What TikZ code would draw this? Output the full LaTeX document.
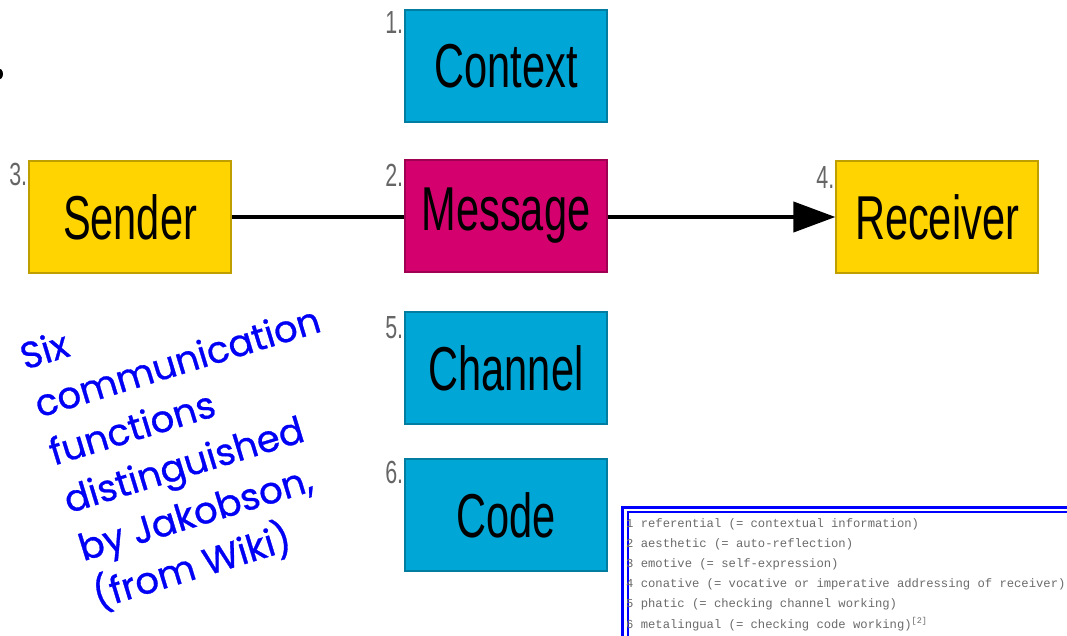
\documentclass[tikz,border=0pt]{standalone}
\usepackage{fontspec}
\usepackage{tikz}
\usetikzlibrary{arrows.meta, positioning}
\setmainfont{Liberation Sans}
\newfontfamily\boxfont[FakeStretch=0.67]{Liberation Sans}
\newfontfamily\notefont[FakeBold=0.8]{Poppins}
\newfontfamily\listfont{Liberation Mono}
\definecolor{ctxcyan}{HTML}{00A6D6}
\definecolor{msgpink}{HTML}{D4006E}
\definecolor{sndyellow}{HTML}{FFD400}
\definecolor{numgray}{HTML}{666666}
\definecolor{listgray}{HTML}{6A6A6A}
\definecolor{noteblue}{HTML}{0000F5}

\begin{document}
\begin{tikzpicture}[x=1pt, y=-1pt,
    fbox/.style={draw=#1!75!black, fill=#1, line width=1.2pt,
                 minimum width=202pt, minimum height=112pt, inner sep=0pt,
                 font=\boxfont\fontsize{62}{62}\selectfont},
    numlbl/.style={font=\boxfont\fontsize{32}{32}\selectfont, text=numgray,
                   anchor=north east, inner sep=0pt},
    conn/.style={line width=4pt, black},
    lstline/.style={font=\listfont\fontsize{12.2}{12.2}\selectfont, text=listgray,
                    anchor=base west, inner sep=0pt},
]
    \useasboundingbox (0,0) rectangle (1067,636);

    % stray mark at the left edge
    \fill[black] (-2,74) ellipse [x radius=5, y radius=6];

    % === function boxes ===
    \node[fbox=ctxcyan]   (ctx) at (506, 66)  {Context};
    \node[fbox=msgpink]   (msg) at (506, 216) {Message};
    \node[fbox=sndyellow] (snd) at (130, 217) {Sender};
    \node[fbox=sndyellow] (rcv) at (937, 217) {Receiver};
    \node[fbox=ctxcyan]   (chn) at (506, 368) {Channel};
    \node[fbox=ctxcyan]   (cod) at (506, 515) {Code};

    % numbering
    \node[numlbl] (n1) at ([xshift=-1pt, yshift=-2pt]ctx.north west) {1.};
    \node[numlbl] (n2) at ([xshift=-1pt, yshift=-5pt]msg.north west) {2.};
    \node[numlbl] (n3) at ([xshift=-1pt, yshift=-3pt]snd.north west) {3.};
    \node[numlbl] (n4) at ([xshift=-1pt, yshift=-6pt]rcv.north west) {4.};
    \node[numlbl] (n5) at ([xshift=-1pt, yshift=-5pt]chn.north west) {5.};
    \node[numlbl] (n6) at ([xshift=-1pt, yshift=-3pt]cod.north west) {6.};

    % === connectors ===
    \draw[conn] (snd.east) -- (snd.east -| msg.west);
    \draw[conn, -{Triangle[length=42pt, width=30pt]}] (msg.east |- rcv.west) -- (rcv.west);

    % handwritten note
    \node[font=\notefont\fontsize{37}{50}\selectfont, text=noteblue, align=left,
          rotate=17] (note) at (200, 436)
        {Six\\communication\\functions\\distinguished\\by Jakobson,\\(from Wiki)};

    % === list of functions ===
    \draw[blue, line width=3pt] (622,507) rectangle (1090,660);
    \draw[blue, line width=2pt] (628,512) rectangle (1090,660);
    \foreach \txt [count=\i from 0] in {
        {1 referential (= contextual information)},
        {2 aesthetic (= auto-reflection)},
        {3 emotive (= self-expression)},
        {4 conative (= vocative or imperative addressing of receiver)},
        {5 phatic (= checking channel working)},
        {6 metalingual (= checking code working)\textsuperscript{[2]}}}
        \node[lstline] (l\i) at (626, 527+20.2*\i) {\txt};
\end{tikzpicture}
\end{document}
